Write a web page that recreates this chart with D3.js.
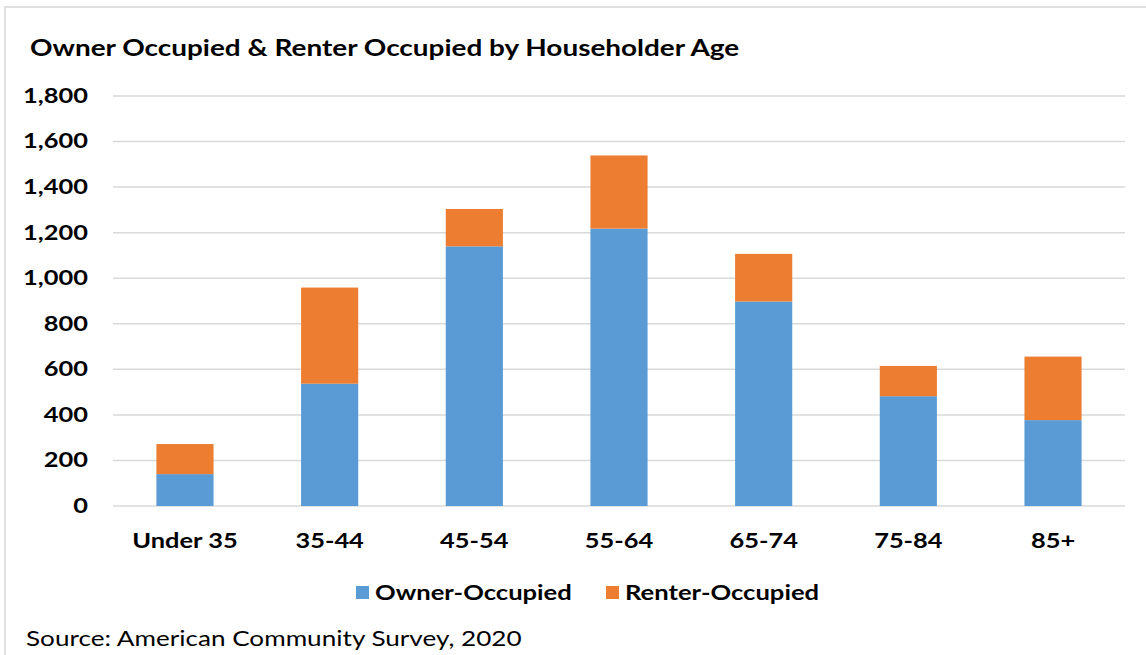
<!DOCTYPE html>
<html>
<head>
<meta charset="utf-8">
<script src="https://cdn.jsdelivr.net/npm/d3@7"></script>
<style>
  body { margin: 0; background: #fff; }
  text { font-family: Lato, "Open Sans", sans-serif; fill: #000; }
</style>
</head>
<body>
<div class="chart"></div>
<script>
// Data
const ages = ['Under 35', '35-44', '45-54', '55-64', '65-74', '75-84', '85+'];
const owner = [140, 537, 1140, 1218, 898, 482, 377];
const renter = [132, 422, 164, 321, 209, 133, 279];
const yTicks = [0, 200, 400, 600, 800, 1000, 1200, 1400, 1600, 1800];
const seriesNames = ['Owner-Occupied', 'Renter-Occupied'];
const colors = ['#5B9BD5', '#ED7D31'];

const width = 1146;
const height = 655;
const margin = { top: 96, right: 21, bottom: 148, left: 113 };
const stretch = 1.27; // the reference text is set wide (Calibri-like, stretched)

const svg = d3.select('.chart')
  .append('svg')
  .attr('width', width)
  .attr('height', height);

// chart frame
svg.append('path')
  .attr('d', `M5,${height} V7 H${width}`)
  .attr('fill', 'none')
  .attr('stroke', '#d6d6d6')
  .attr('stroke-width', 1.5);

const x = d3.scaleBand()
  .domain(ages)
  .range([margin.left, width - margin.right])
  .paddingInner(0.605)
  .paddingOuter(0.3);

const y = d3.scaleLinear()
  .domain([0, 1800])
  .range([height - margin.bottom - 1, margin.top]);

// gridlines
svg.append('g')
  .selectAll('line')
  .data(yTicks)
  .join('line')
  .attr('x1', margin.left)
  .attr('x2', width - margin.right)
  .attr('y1', d => y(d))
  .attr('y2', d => y(d))
  .attr('stroke', '#d9d9d9')
  .attr('stroke-width', 1.5);

// y axis labels
const yAxis = svg.append('g')
  .attr('transform', `translate(${margin.left - 25},0)`)
  .call(d3.axisLeft(y).tickValues(yTicks).tickFormat(d3.format(',')).tickSize(0).tickPadding(0));
yAxis.select('.domain').remove();
yAxis.selectAll('text')
  .attr('transform', `scale(${stretch},1)`)
  .style('font-size', '20px')
  .style('font-weight', 'bold')
  .attr('fill', '#000');

// x axis labels
const xAxis = svg.append('g')
  .attr('transform', `translate(0,${y(0)})`)
  .call(d3.axisBottom(x).tickSize(0).tickPadding(28));
xAxis.select('.domain').remove();
xAxis.selectAll('text')
  .attr('transform', `scale(${stretch},1)`)
  .style('font-size', '20px')
  .style('font-weight', 'bold')
  .attr('fill', '#000');

// stacked bars
const rows = ages.map((age, i) => ({ age, owner: owner[i], renter: renter[i] }));
const stack = d3.stack().keys(['owner', 'renter'])(rows);

svg.append('g')
  .selectAll('g')
  .data(stack)
  .join('g')
  .attr('fill', (d, i) => colors[i])
  .selectAll('rect')
  .data(d => d)
  .join('rect')
  .attr('x', d => x(d.data.age))
  .attr('width', x.bandwidth())
  .attr('y', d => y(d[1]))
  .attr('height', d => y(d[0]) - y(d[1]));

// title
svg.append('text')
  .attr('transform', `translate(30,56) scale(${stretch},1)`)
  .style('font-size', '22px')
  .style('font-weight', 'bold')
  .text('Owner Occupied & Renter Occupied by Householder Age');

// legend
const legendX = [356, 606];
const legend = svg.append('g')
  .selectAll('g')
  .data(seriesNames)
  .join('g')
  .attr('transform', (d, i) => `translate(${legendX[i]},593)`);
legend.append('rect')
  .attr('x', 0)
  .attr('y', -7)
  .attr('width', 13)
  .attr('height', 13)
  .attr('fill', (d, i) => colors[i]);
legend.append('text')
  .attr('transform', `translate(19,0) scale(1.28,1)`)
  .attr('dy', '0.35em')
  .style('font-size', '20px')
  .style('font-weight', 'bold')
  .text(d => d);

// source
svg.append('text')
  .attr('transform', `translate(26,646) scale(1.275,1)`)
  .style('font-size', '20.5px')
  .text('Source: American Community Survey, 2020');
</script>
</body>
</html>
